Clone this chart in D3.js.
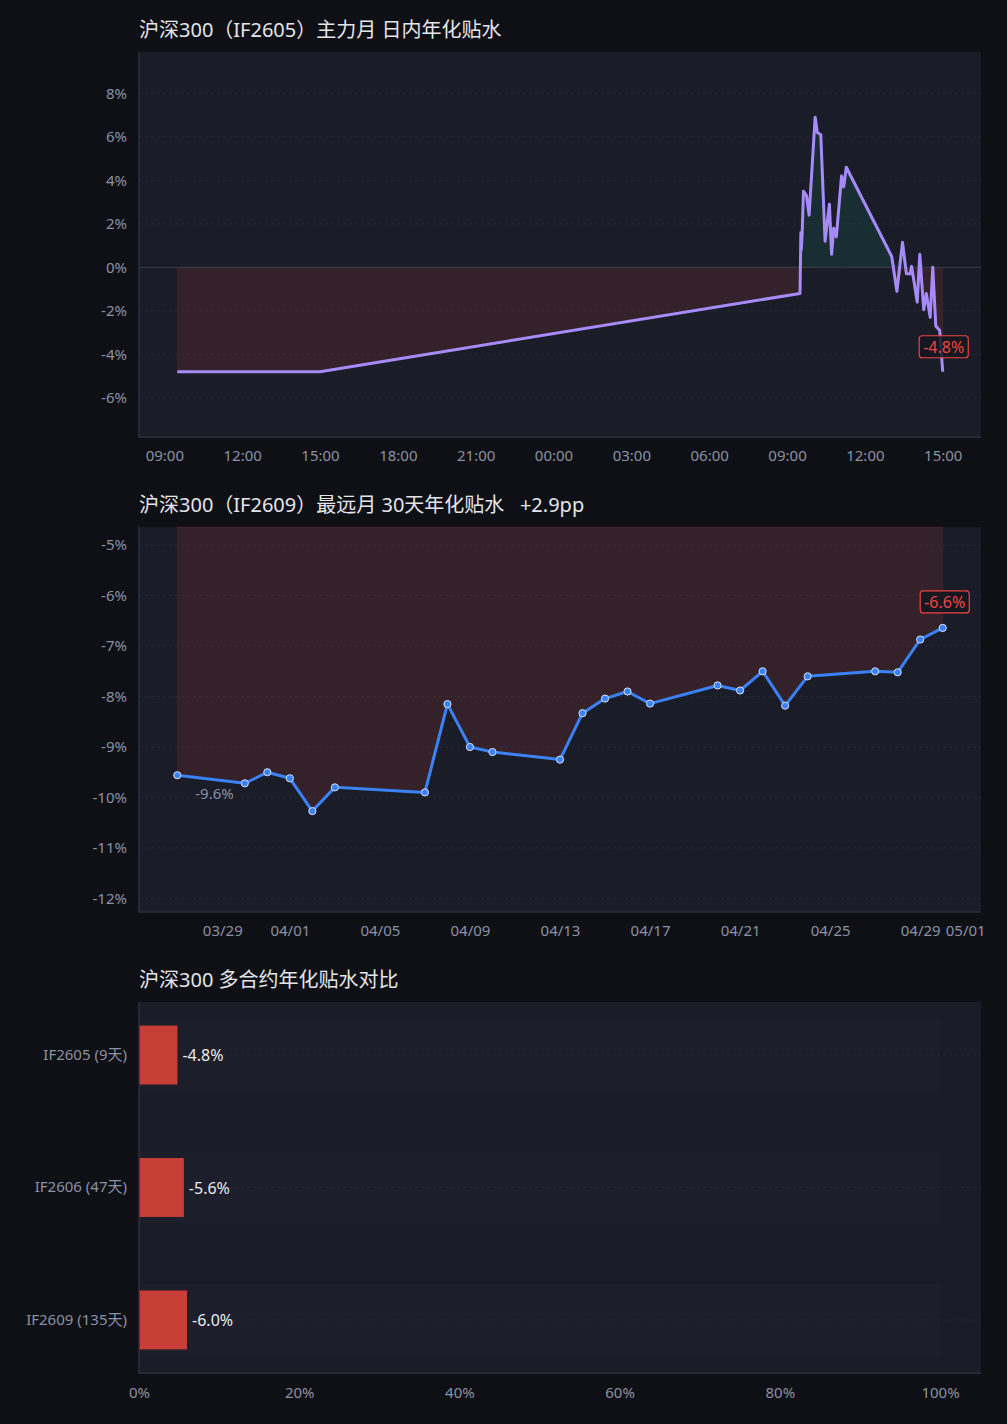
<!DOCTYPE html>
<html>
<head>
<meta charset="utf-8">
<script src="https://cdn.jsdelivr.net/npm/d3@7"></script>
<style>
  html, body { margin: 0; padding: 0; background: #0f1015; }
  svg { display: block; font-family: "Noto Sans", "Noto Sans CJK SC", sans-serif; }
</style>
</head>
<body>
<svg id="chart"></svg>
<script>
// 主力月 日内年化贴水 (IF2605)
const intradayTimes = [
  "2026-04-29 09:30", "2026-04-29 15:00",
  "2026-04-30 09:30", "2026-04-30 09:32", "2026-04-30 09:33", "2026-04-30 09:35",
  "2026-04-30 09:38", "2026-04-30 09:45", "2026-04-30 09:51", "2026-04-30 10:05",
  "2026-04-30 10:10", "2026-04-30 10:18", "2026-04-30 10:28", "2026-04-30 10:38",
  "2026-04-30 10:43", "2026-04-30 10:48", "2026-04-30 10:54", "2026-04-30 11:06",
  "2026-04-30 11:11", "2026-04-30 11:17", "2026-04-30 13:02", "2026-04-30 13:14",
  "2026-04-30 13:27", "2026-04-30 13:36", "2026-04-30 13:45", "2026-04-30 13:48",
  "2026-04-30 14:01", "2026-04-30 14:07", "2026-04-30 14:16", "2026-04-30 14:22",
  "2026-04-30 14:31", "2026-04-30 14:37", "2026-04-30 14:44", "2026-04-30 14:53",
  "2026-04-30 15:00"
];
const intradayValues = [
  -4.8, -4.8,
  -1.2, 1.6, 0.8, 1.6,
  3.5, 3.3, 2.4, 6.9,
  6.2, 6.1, 1.2, 2.9,
  0.6, 1.8, 1.4, 4.2,
  3.7, 4.6, 0.5, -1.1,
  1.15, -0.3, -0.3, 0.05,
  -1.6, 0.6, -1.95, -1.2,
  -2.3, 0.0, -2.7, -2.9,
  -4.8
];

// 最远月 30天年化贴水 (IF2609)
const dailyDates = [
  "2026-03-27", "2026-03-30", "2026-03-31", "2026-04-01", "2026-04-02", "2026-04-03",
  "2026-04-07", "2026-04-08", "2026-04-09", "2026-04-10", "2026-04-13", "2026-04-14",
  "2026-04-15", "2026-04-16", "2026-04-17", "2026-04-20", "2026-04-21", "2026-04-22",
  "2026-04-23", "2026-04-24", "2026-04-27", "2026-04-28", "2026-04-29", "2026-04-30"
];
const dailyValues = [
  -9.56, -9.72, -9.5, -9.62, -10.27, -9.8,
  -9.9, -8.15, -9.0, -9.1, -9.25, -8.33,
  -8.04, -7.9, -8.14, -7.78, -7.88, -7.5,
  -8.18, -7.6, -7.5, -7.52, -6.87, -6.64
];

// 多合约年化贴水对比
const contracts = ["IF2605 (9天)", "IF2606 (47天)", "IF2609 (135天)"];
const contractValues = [-4.8, -5.6, -6.0];
const pctTicks = [0, 20, 40, 60, 80, 100];

const W = 1007, H = 1424;
const left = 139, right = 981;
const C = {
  plotBg: "#1a1c27", border: "#2c2f3d", grid: "rgba(255,255,255,0.05)",
  tick: "#8b90a3", title: "#e3e5ea", zero: "#3a3d4b",
  red: "#ef4444", purple: "#a78bfa", blue: "#3b82f6", bar: "#c73e36"
};
const FONT = "\"Noto Sans\", \"Noto Sans CJK SC\", sans-serif";
const pct1 = v => v.toFixed(1) + "%";

const svg = d3.select("#chart").attr("width", W).attr("height", H);
svg.append("rect").attr("width", W).attr("height", H).attr("fill", "#0f1015");

function panel(top, bottom, title) {
  const g = svg.append("g");
  g.append("rect").attr("x", left).attr("y", top)
    .attr("width", right - left).attr("height", bottom - top).attr("fill", C.plotBg);
  g.append("text").attr("x", left).attr("y", top - 15)
    .attr("fill", C.title).attr("font-size", 20).text(title);
  return g;
}

function frame(g, top, bottom) {
  g.append("path")
    .attr("d", `M${left},${top}V${bottom}H${right}`)
    .attr("fill", "none").attr("stroke", C.border).attr("stroke-width", 1.5);
}

function styleAxis(a) {
  a.select(".domain").remove();
  a.selectAll(".tick line").remove();
  a.selectAll("text").attr("fill", C.tick).attr("font-size", 15).attr("font-family", FONT);
}

function padDomain(ext) {
  const span = ext[1] - ext[0];
  return [new Date(+ext[0] - span * 0.05), new Date(+ext[1] + span * 0.05)];
}

function tag(g, x, y, text) {
  const tg = g.append("g");
  const r = tg.append("rect");
  const t = tg.append("text").attr("x", x).attr("y", y)
    .attr("text-anchor", "middle").attr("dominant-baseline", "central")
    .attr("fill", C.red).attr("font-size", 16).text(text);
  const b = t.node().getBBox();
  r.attr("x", b.x - 4).attr("y", y - 11).attr("width", b.width + 8).attr("height", 22)
    .attr("rx", 3).attr("fill", "rgba(20,22,30,0.85)")
    .attr("stroke", C.red).attr("stroke-width", 1.2);
}

// ---------- chart 1: intraday ----------
{
  const top = 52, bottom = 437;
  const g = panel(top, bottom, "沪深300（IF2605）主力月 日内年化贴水");
  const parse = d3.timeParse("%Y-%m-%d %H:%M");
  const data = intradayTimes.map((t, i) => ({ t: parse(t), v: intradayValues[i] }));

  const x = d3.scaleTime().domain(padDomain(d3.extent(data, d => d.t))).range([left, right]);
  const y = d3.scaleLinear()
    .domain([d3.min(data, d => d.v) - 3, d3.max(data, d => d.v) + 3])
    .range([bottom, top]);

  g.append("g").selectAll("line").data(y.ticks(8).filter(d => d !== 0)).join("line")
    .attr("x1", left).attr("x2", right).attr("y1", d => y(d)).attr("y2", d => y(d))
    .attr("stroke", C.grid).attr("stroke-dasharray", "3,3");

  g.append("path").datum(data)
    .attr("d", d3.area().x(d => x(d.t)).y0(y(0)).y1(d => y(Math.min(d.v, 0))))
    .attr("fill", "rgba(239,68,68,0.13)").attr("stroke", "rgba(239,68,68,0.1)");
  g.append("path").datum(data)
    .attr("d", d3.area().x(d => x(d.t)).y0(y(0)).y1(d => y(Math.max(d.v, 0))))
    .attr("fill", "rgba(16,185,129,0.12)");

  g.append("line").attr("x1", left).attr("x2", right).attr("y1", y(0)).attr("y2", y(0))
    .attr("stroke", C.zero).attr("stroke-width", 1);

  g.append("path").datum(data)
    .attr("d", d3.line().x(d => x(d.t)).y(d => y(d.v)))
    .attr("fill", "none").attr("stroke", C.purple).attr("stroke-width", 3)
    .attr("stroke-linejoin", "round");

  frame(g, top, bottom);

  g.append("g").attr("transform", `translate(${left - 12},0)`)
    .call(d3.axisLeft(y).ticks(8).tickSize(0).tickPadding(0).tickFormat(d => d + "%"))
    .call(styleAxis);
  g.append("g").attr("transform", `translate(0,${bottom + 13})`)
    .call(d3.axisBottom(x).ticks(d3.timeHour.every(3)).tickSize(0).tickPadding(0)
      .tickFormat(d3.timeFormat("%H:%M")))
    .call(styleAxis);

  const last = data[data.length - 1];
  tag(g, x(last.t) + 1, y(last.v) - 25, pct1(last.v));
}

// ---------- chart 2: daily ----------
{
  const top = 527, bottom = 912;
  const g = panel(top, bottom, "沪深300（IF2609）最远月 30天年化贴水\u00a0\u00a0\u00a0+2.9pp");
  const parse = d3.timeParse("%Y-%m-%d");
  const data = dailyDates.map((t, i) => ({ t: parse(t), v: dailyValues[i] }));

  const x = d3.scaleTime().domain(padDomain(d3.extent(data, d => d.t))).range([left, right]);
  const y = d3.scaleLinear()
    .domain([d3.min(data, d => d.v) - 2, d3.max(data, d => d.v) + 2])
    .range([bottom, top]);

  g.append("g").selectAll("line").data(y.ticks(8)).join("line")
    .attr("x1", left).attr("x2", right).attr("y1", d => y(d)).attr("y2", d => y(d))
    .attr("stroke", C.grid).attr("stroke-dasharray", "3,3");

  g.append("path").datum(data)
    .attr("d", d3.area().x(d => x(d.t)).y0(Math.max(y(0), top)).y1(d => y(d.v)))
    .attr("fill", "rgba(239,68,68,0.13)").attr("stroke", "rgba(239,68,68,0.1)");

  g.append("path").datum(data)
    .attr("d", d3.line().x(d => x(d.t)).y(d => y(d.v)))
    .attr("fill", "none").attr("stroke", C.blue).attr("stroke-width", 3)
    .attr("stroke-linejoin", "round");

  g.append("g").selectAll("circle").data(data).join("circle")
    .attr("cx", d => x(d.t)).attr("cy", d => y(d.v)).attr("r", 3.6)
    .attr("fill", C.blue).attr("stroke", "#d6e2ff").attr("stroke-width", 1);

  frame(g, top, bottom);

  g.append("g").attr("transform", `translate(${left - 12},0)`)
    .call(d3.axisLeft(y).ticks(8).tickSize(0).tickPadding(0).tickFormat(d => d + "%"))
    .call(styleAxis);
  g.append("g").attr("transform", `translate(0,${bottom + 13})`)
    .call(d3.axisBottom(x).ticks(d3.timeDay.every(4)).tickSize(0).tickPadding(0)
      .tickFormat(d3.timeFormat("%m/%d")))
    .call(styleAxis);

  const first = data[0], last = data[data.length - 1];
  g.append("text").attr("x", x(first.t) + 18).attr("y", y(first.v) + 24)
    .attr("fill", C.tick).attr("font-size", 15).text(pct1(first.v));
  tag(g, x(last.t) + 2, y(last.v) - 26, pct1(last.v));
}

// ---------- chart 3: contracts ----------
{
  const top = 1002, bottom = 1373;
  const g = panel(top, bottom, "沪深300 多合约年化贴水对比");
  const x = d3.scaleLinear().domain([0, 100]).range([left, 940]);
  const y = d3.scaleBand().domain(contracts).range([top, bottom])
    .paddingInner(0.555).paddingOuter(0.178);

  const rows = contracts.map((c, i) => ({ c, v: contractValues[i] }));
  const cy = d => y(d.c) + y.bandwidth() / 2;

  g.append("g").selectAll("rect").data(rows).join("rect")
    .attr("x", x(0)).attr("width", x(100) - x(0))
    .attr("y", d => cy(d) - 36).attr("height", 72)
    .attr("fill", "rgba(255,255,255,0.012)");
  g.append("g").selectAll("line").data(rows).join("line")
    .attr("x1", x(0)).attr("x2", right).attr("y1", cy).attr("y2", cy)
    .attr("stroke", "rgba(255,255,255,0.04)").attr("stroke-dasharray", "3,3");

  g.append("g").selectAll("rect").data(rows).join("rect")
    .attr("x", x(0)).attr("y", d => y(d.c))
    .attr("width", d => x(Math.abs(d.v)) - x(0)).attr("height", y.bandwidth())
    .attr("fill", C.bar);

  g.append("g").selectAll("text").data(rows).join("text")
    .attr("x", d => x(Math.abs(d.v)) + 5).attr("y", cy)
    .attr("dominant-baseline", "central")
    .attr("fill", "#e8eaef").attr("font-size", 16)
    .text(d => pct1(d.v));

  frame(g, top, bottom);

  g.append("g").attr("transform", `translate(${left - 12},0)`)
    .call(d3.axisLeft(y).tickSize(0).tickPadding(0))
    .call(styleAxis);
  g.append("g").attr("transform", `translate(0,${bottom + 14})`)
    .call(d3.axisBottom(x).tickValues(pctTicks).tickSize(0).tickPadding(0).tickFormat(d => d + "%"))
    .call(styleAxis);
}
</script>
</body>
</html>
